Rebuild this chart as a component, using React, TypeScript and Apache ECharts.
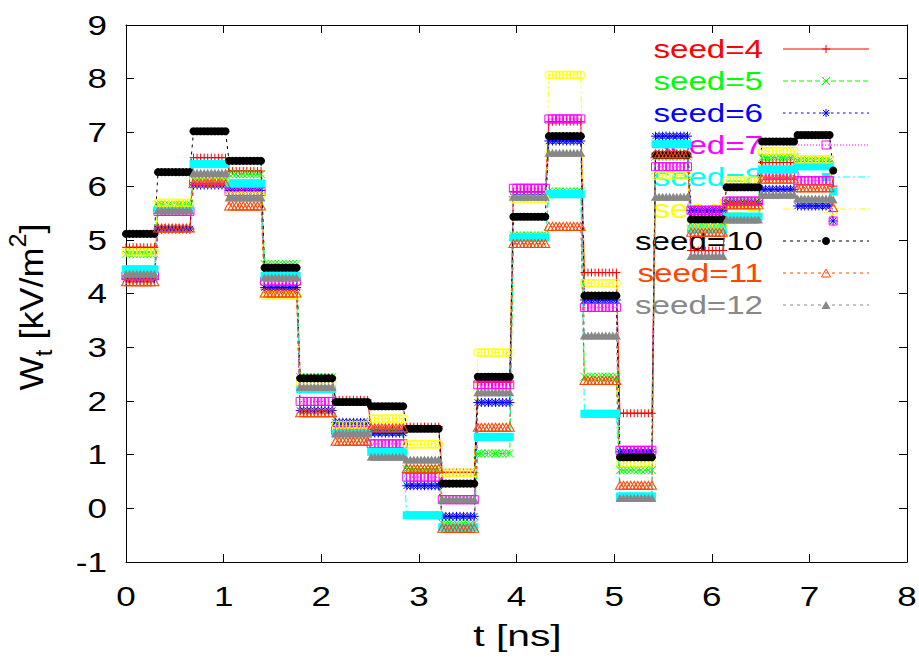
import React, { useEffect, useRef } from "react";
import * as echarts from "echarts";

// ---------- data ----------
const X_TICKS = [0, 1, 2, 3, 4, 5, 6, 7, 8];
const Y_TICKS = [-1, 0, 1, 2, 3, 4, 5, 6, 7, 8, 9];
const X_TITLE = "t [ns]";
const SERIES_NAMES = ["seed=4", "seed=5", "seed=6", "seed=7", "seed=8", "seed=9", "seed=10", "seed=11", "seed=12"];

// recorded level of each series on each of the 20 time steps, plus the last recorded sample
const seed4 = [4.86, 5.22, 6.53, 6.28, 4.08, 2.44, 2.02, 1.47, 1.52, 0.67, 2.35, 5.9, 7.2, 4.39, 1.77, 6.6, 4.8, 5.67, 6.44, 6.45, 6.0];
const seed5 = [4.74, 5.66, 6.12, 6.22, 4.55, 2.44, 1.5, 1.42, 0.73, -0.28, 1.02, 5.08, 5.9, 2.45, 0.71, 6.55, 5.3, 5.72, 6.53, 6.48, 5.9];
const seed6 = [4.27, 5.2, 6.02, 5.92, 4.11, 1.82, 1.6, 1.4, 0.42, -0.15, 1.97, 5.8, 6.84, 3.88, 1.05, 6.93, 5.55, 5.68, 5.94, 5.63, 5.35];
const seed7 = [4.33, 5.53, 6.1, 5.9, 4.23, 1.99, 1.45, 1.2, 0.58, 0.16, 2.3, 5.96, 7.25, 3.74, 1.08, 6.36, 5.55, 5.72, 6.2, 6.1, 5.35];
const seed8 = [4.45, 5.57, 6.41, 6.05, 4.33, 2.22, 1.38, 1.05, -0.13, -0.35, 1.33, 5.04, 5.85, 1.76, 0.22, 6.78, 5.2, 5.43, 6.31, 6.37, 5.9];
const seed9 = [4.77, 5.69, 6.15, 5.82, 3.96, 2.32, 1.55, 1.67, 1.19, 0.66, 2.9, 5.76, 8.07, 4.19, 0.84, 6.2, 5.26, 6.1, 6.65, 6.5, 5.54];
const seed10 = [5.11, 6.26, 7.02, 6.47, 4.48, 2.42, 1.98, 1.9, 1.48, 0.46, 2.45, 5.43, 6.93, 3.96, 0.95, 6.58, 5.38, 5.98, 6.83, 6.95, 6.29];
const seed11 = [4.22, 5.22, 6.05, 5.63, 4.01, 1.78, 1.25, 1.5, 0.74, -0.37, 1.51, 4.93, 5.25, 2.38, 0.43, 6.6, 5.14, 5.65, 6.13, 5.97, 5.6];
const seed12 = [4.37, 5.55, 6.25, 5.79, 4.3, 2.26, 1.4, 0.96, 0.91, 0.17, 2.16, 5.8, 6.62, 3.22, 0.19, 5.8, 4.7, 5.38, 5.84, 5.77, 5.75];
const LEVELS = [seed4, seed5, seed6, seed7, seed8, seed9, seed10, seed11, seed12];

// sampling of the recorded signal
const SAMPLE_DT = 0.0364; // ns
const SAMPLES_PER_STEP = 10;
const SAMPLE_COUNT = 200;

// ---------- styles ----------
const COLORS = ["#ff0000", "#00ff00", "#0000ff", "#ff00ff", "#00ffff", "#ffff00", "#000000", "#ff4500", "#888888"];
const DASHES: number[][] = [[], [5, 3], [2.5, 3.5], [1, 2], [7, 3, 2, 3], [6, 3, 2, 3, 2, 3], [3, 4], [3, 4], [3, 4]];
const MARKERS = ["plus", "cross", "star", "squareOpen", "square", "circleOpen", "circle", "triangleOpen", "triangle"];

const FONT = "'Liberation Sans', Arial, Helvetica, sans-serif";
const SX = 1.25; // horizontal stretch of the lettering

const SYMBOL_DEF: Record<string, { symbol: string; open: boolean; size: any }> = {
  plus: { symbol: "path://M0,5L10,5M5,0L5,10", open: true, size: 8 },
  cross: { symbol: "path://M0,0L10,10M0,10L10,0", open: true, size: 8 },
  star: { symbol: "path://M0,5L10,5M5,0L5,10M1.5,1.5L8.5,8.5M1.5,8.5L8.5,1.5", open: true, size: 9 },
  squareOpen: { symbol: "path://M0,0L10,0L10,10L0,10Z", open: true, size: 8 },
  square: { symbol: "rect", open: false, size: 8 },
  circleOpen: { symbol: "path://M0,5A5,5,0,1,1,10,5A5,5,0,1,1,0,5Z", open: true, size: 8 },
  circle: { symbol: "circle", open: false, size: 8 },
  triangleOpen: { symbol: "path://M5,0L10,9L0,9Z", open: true, size: [9, 8] },
  triangle: { symbol: "triangle", open: false, size: [9, 8] },
};

function levelIndex(i: number) {
  return i < SAMPLES_PER_STEP - 1 ? 0 : Math.floor((i + 1) / SAMPLES_PER_STEP);
}

function buildData(levels: number[]) {
  const out: number[][] = [];
  for (let i = 0; i < SAMPLE_COUNT; i++) out.push([+(i * SAMPLE_DT).toFixed(4), levels[levelIndex(i)]]);
  return out;
}

function legendMarker(kind: string, cx: number, cy: number, color: string): any {
  const r = 4;
  const ln = (x1: number, y1: number, x2: number, y2: number) => ({
    type: "line",
    shape: { x1, y1, x2, y2 },
    style: { stroke: color, lineWidth: 1 },
  });
  switch (kind) {
    case "plus":
      return [ln(cx - r, cy, cx + r, cy), ln(cx, cy - r, cx, cy + r)];
    case "cross":
      return [ln(cx - r, cy - r, cx + r, cy + r), ln(cx - r, cy + r, cx + r, cy - r)];
    case "star":
      return [
        ln(cx - r, cy, cx + r, cy),
        ln(cx, cy - r, cx, cy + r),
        ln(cx - 3, cy - 3, cx + 3, cy + 3),
        ln(cx - 3, cy + 3, cx + 3, cy - 3),
      ];
    case "squareOpen":
      return [{ type: "rect", shape: { x: cx - r, y: cy - r, width: 2 * r, height: 2 * r }, style: { fill: "none", stroke: color, lineWidth: 1 } }];
    case "square":
      return [{ type: "rect", shape: { x: cx - r, y: cy - r, width: 2 * r, height: 2 * r }, style: { fill: color } }];
    case "circleOpen":
      return [{ type: "circle", shape: { cx, cy, r }, style: { fill: "none", stroke: color, lineWidth: 1 } }];
    case "circle":
      return [{ type: "circle", shape: { cx, cy, r }, style: { fill: color } }];
    case "triangleOpen":
      return [{ type: "polygon", shape: { points: [[cx, cy - r], [cx + 4.5, cy + r], [cx - 4.5, cy + r]] }, style: { fill: "none", stroke: color, lineWidth: 1 } }];
    default:
      return [{ type: "polygon", shape: { points: [[cx, cy - r], [cx + 4.5, cy + r], [cx - 4.5, cy + r]] }, style: { fill: color } }];
  }
}

export default function App() {
  const ref = useRef<HTMLDivElement>(null);

  useEffect(() => {
    const el = ref.current;
    if (!el) return;
    const chart = echarts.init(el, null, { renderer: "svg" });

    const axisBase = {
      type: "value" as const,
      axisLine: { show: true, onZero: false, lineStyle: { color: "#000", width: 1 } },
      axisTick: { show: true, inside: true, length: 8, lineStyle: { color: "#000", width: 1 } },
      axisLabel: { show: false },
      splitLine: { show: false },
    };

    const series = LEVELS.map((levels, k) => {
      const def = SYMBOL_DEF[MARKERS[k]];
      const color = COLORS[k];
      return {
        type: "line",
        name: SERIES_NAMES[k],
        data: buildData(levels),
        xAxisIndex: 0,
        yAxisIndex: 0,
        symbol: def.symbol,
        symbolSize: def.size,
        showSymbol: true,
        showAllSymbol: true,
        silent: true,
        emphasis: { disabled: true },
        lineStyle: { color, width: 1, type: DASHES[k].length ? DASHES[k] : "solid" },
        itemStyle: def.open
          ? { color: "rgba(0,0,0,0)", borderColor: color, borderWidth: 1 }
          : { color, borderWidth: 0 },
      };
    });

    chart.setOption({
      animation: false,
      backgroundColor: "#ffffff",
      grid: { left: 126, right: 12, top: 25, bottom: 102, containLabel: false },
      xAxis: [
        { ...axisBase, min: 0, max: 8, interval: 1, position: "bottom" },
        { ...axisBase, min: 0, max: 8, interval: 1, position: "top" },
      ],
      yAxis: [
        { ...axisBase, min: -1, max: 9, interval: 1, position: "left" },
        { ...axisBase, min: -1, max: 9, interval: 1, position: "right" },
      ],
      series,
    });

    const graphics: any[] = [];
    const txt = (text: string, x: number, y: number, size: number, align: string, color = "#000", sx = SX) => ({
      type: "text",
      x,
      y,
      scaleX: sx,
      style: { text, fill: color, font: `${size}px ${FONT}`, align, verticalAlign: "middle" },
      silent: true,
    });

    X_TICKS.forEach((v) => {
      const p = chart.convertToPixel({ xAxisIndex: 0, yAxisIndex: 0 }, [v, -1]) as number[];
      graphics.push(txt(String(v), p[0], p[1] + 34, 28, "center"));
    });
    Y_TICKS.forEach((v) => {
      const p = chart.convertToPixel({ xAxisIndex: 0, yAxisIndex: 0 }, [0, v]) as number[];
      graphics.push(txt(String(v), p[0] - 19, p[1], 28, "right"));
    });

    const pMid = chart.convertToPixel({ xAxisIndex: 0, yAxisIndex: 0 }, [4, -1]) as number[];
    graphics.push(txt(X_TITLE, pMid[0] + 1, pMid[1] + 74, 30, "center", "#000", 1.36));

    // y title  W_t [kV/m^2]
    graphics.push({
      type: "text",
      x: 31,
      y: 307,
      rotation: Math.PI / 2,
      scaleX: 1.2,
      scaleY: 1.12,
      silent: true,
      style: {
        text: "{n|W}{sub|t}{n| [kV/m}{sup|2}{n|]}",
        align: "center",
        verticalAlign: "middle",
        rich: {
          n: { font: `30px ${FONT}`, fill: "#000", lineHeight: 44, verticalAlign: "middle" },
          sub: { font: `21px ${FONT}`, fill: "#000", lineHeight: 21, verticalAlign: "bottom" },
          sup: { font: `21px ${FONT}`, fill: "#000", lineHeight: 21, verticalAlign: "top" },
        },
      },
    });

    // key
    SERIES_NAMES.forEach((name, k) => {
      const cy = 49 + 32 * k;
      const color = COLORS[k];
      graphics.push(txt(name, 763, cy, 26.5, "right", color));
      graphics.push({
        type: "line",
        silent: true,
        shape: { x1: 783, y1: cy, x2: 869, y2: cy },
        style: { stroke: color, lineWidth: 1, lineDash: DASHES[k].length ? DASHES[k] : null },
      });
      legendMarker(MARKERS[k], 826, cy, color).forEach((g: any) => graphics.push({ ...g, silent: true }));
    });

    chart.setOption({ graphic: graphics });

    return () => {
      chart.dispose();
    };
  }, []);

  return (
    <div
      ref={ref}
      style={{ position: "absolute", left: 0, top: 0, width: 919, height: 664, background: "#fff" }}
    />
  );
}
